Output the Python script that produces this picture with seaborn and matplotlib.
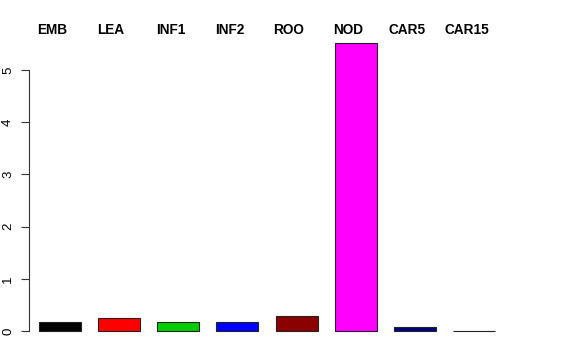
import matplotlib
matplotlib.use("Agg")
import matplotlib.pyplot as plt
import matplotlib.transforms as mtransforms
import seaborn as sns
import pandas as pd

categories = ["EMB", "LEA", "INF1", "INF2", "ROO", "NOD", "CAR5", "CAR15"]
values = [0.17, 0.24, 0.18, 0.17, 0.28, 5.52, 0.08, 0.005]
colors = ["#000000", "#FF0000", "#00CD00", "#0000FF", "#8B0000", "#FF00FF", "#000080", "#FFFFFF"]
yticks = [0, 1, 2, 3, 4, 5]

sns.set_style("white")
plt.rcParams["font.family"] = ["Liberation Sans", "DejaVu Sans"]
plt.rcParams["text.color"] = "black"
plt.rcParams["ytick.color"] = "black"

df = pd.DataFrame({"cat": categories, "val": values})

fig = plt.figure(figsize=(5.76, 3.6), dpi=100)
ax = fig.add_axes([29.3 / 576, 1 - 342.5 / 360, (520 - 29.3) / 576, (342.5 - 31.4) / 360])

sns.barplot(data=df, x="cat", y="val", hue="cat", palette=colors, legend=False,
            width=0.71, edgecolor="#222222", linewidth=0.8, saturation=1, ax=ax)

ax.set_xlim(-0.511, 7.77)
ax.set_ylim(-0.22, 5.74)
for s in ["top", "right", "bottom"]:
    ax.spines[s].set_visible(False)
ax.spines["left"].set_bounds(0, 5)
ax.spines["left"].set_color("#333333")
ax.spines["left"].set_linewidth(0.8)
ax.set_xticks([])
ax.set_yticks(yticks)
ax.set_yticklabels([str(t) for t in yticks], rotation=90, va="center", fontsize=9.5, color="black")
ax.tick_params(axis="y", length=6, width=0.8, color="#333333", pad=5, left=True)
ax.set_xlabel("")
ax.set_ylabel("")

trans = mtransforms.blended_transform_factory(ax.transData, fig.transFigure)
for i, c in enumerate(categories):
    ax.text(i - 0.13, 1 - 30.5 / 360, c, transform=trans, ha="center", va="center",
            fontsize=9.8, fontweight="bold", color="black")

fig.savefig("out.png", dpi=100)
